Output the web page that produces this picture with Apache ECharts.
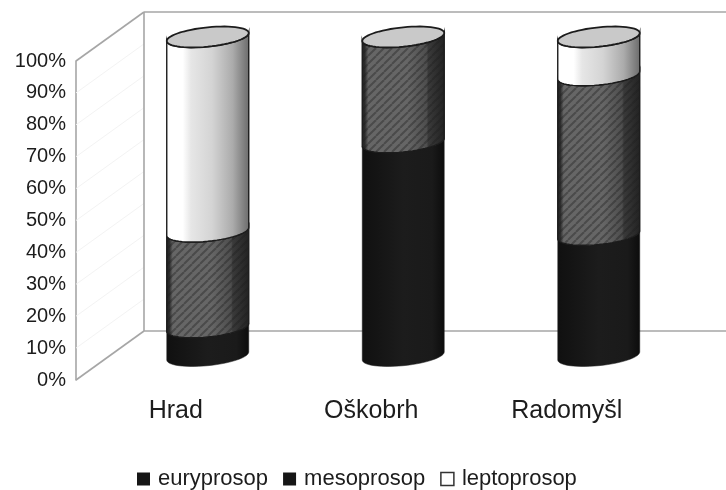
<!DOCTYPE html>
<html>
<head>
<meta charset="utf-8">
<style>html,body{margin:0;padding:0;background:#fff}#c{width:726px;height:490px}</style>
<script src="https://cdn.jsdelivr.net/npm/echarts@6/dist/echarts.min.js"></script>
</head>
<body>
<div id="c"></div>
<script>
const categories = ['Hrad', 'Oškobrh', 'Radomyšl'];
const euryprosop = [9, 67, 38];
const mesoprosop = [30, 33, 50];
const leptoprosop = [61, 0, 12];
const seriesNames = ['euryprosop', 'mesoprosop', 'leptoprosop'];
const yTicks = [0, 10, 20, 30, 40, 50, 60, 70, 80, 90, 100];

const FONT = '"Liberation Sans", Arial, sans-serif';
const INK = '#1c1c1c';
const WALL = '#a6a6a6';
const DEPTH_X = 68, DEPTH_Y = 49;      // 3D wall depth
const BAR_DX = 32, BAR_DY = 24;        // bar offset from category position
const RX = 41, RY = 9.7, TILT = 4;     // tilted ellipse

function hatch() {
  const s = 8, c = document.createElement('canvas');
  c.width = c.height = s;
  const g = c.getContext('2d');
  g.strokeStyle = 'rgba(30,30,30,0.38)';
  g.lineWidth = 2;
  for (let i = -s; i <= s; i += s) {
    g.beginPath(); g.moveTo(i, s); g.lineTo(i + s, 0); g.stroke();
  }
  return c;
}
const hatchTile = hatch();

function grad(stops) {
  return { type: 'linear', x: 0, y: 0, x2: 1, y2: 0,
    colorStops: stops.map(s => ({ offset: s[0], color: s[1] })) };
}
const fills = [
  grad([[0, '#101010'], [0.5, '#1c1c1c'], [0.85, '#1a1a1a'], [1, '#0c0c0c']]),
  grad([[0, '#222'], [0.04, '#2c2c2c'], [0.08, '#666'], [0.55, '#666'], [0.78, '#4e4e4e'], [0.8, '#3a3a3a'], [1, '#222']]),
  grad([[0, '#fff'], [0.2, '#fff'], [0.3, '#e6e6e6'], [0.55, '#d4d4d4'], [0.8, '#ababab'], [1, '#6a6a6a']])
];

function frontArc(cx, cy, from) {
  const pts = [];
  const n = 28;
  for (let i = 0; i <= n; i++) {
    const t = Math.PI + Math.PI * (from === 'L' ? i / n : 1 - i / n);
    pts.push([cx + RX * Math.cos(t), cy - RY * Math.sin(t) - TILT * Math.cos(t)]);
  }
  return pts;
}
function ellipsePts(cx, cy) {
  const pts = [];
  for (let i = 0; i < 60; i++) {
    const t = 2 * Math.PI * i / 60;
    pts.push([cx + RX * Math.cos(t), cy - RY * Math.sin(t) - TILT * Math.cos(t)]);
  }
  return pts;
}

function segRender(layer) {
  return function (params, api) {
    const cat = api.value(0), lo = api.value(1), hi = api.value(2);
    if (hi <= lo) return { type: 'group', children: [] };
    const pLo = api.coord([cat, lo]), pHi = api.coord([cat, hi]);
    const cx = pLo[0] + BAR_DX;
    const yLo = pLo[1] - BAR_DY, yHi = pHi[1] - BAR_DY;
    const pts = frontArc(cx, yLo, 'L').concat(frontArc(cx, yHi, 'R'));
    const children = [{
      type: 'polygon', shape: { points: pts },
      style: { fill: fills[layer], stroke: INK, lineWidth: layer === 0 ? 0.5 : 1.4 }
    }];
    if (layer === 1) {
      children.push({ type: 'polygon', shape: { points: pts },
        style: { fill: { image: hatchTile, repeat: 'repeat' }, stroke: null } });
    }
    if (hi >= 99.99) {
      children.push({ type: 'polygon', shape: { points: ellipsePts(cx, yHi) },
        style: { fill: '#c9c9c9', stroke: INK, lineWidth: 1.8 } });
    }
    return { type: 'group', children };
  };
}

function wallRender(params, api) {
  const cs = params.coordSys;
  const x0 = cs.x - 2, xb = x0 + DEPTH_X;
  const y0 = api.coord([0, 0])[1], y100 = api.coord([0, 100])[1];
  const line = (a, b, c, d, col, w) => ({ type: 'line', shape: { x1: a, y1: b, x2: c, y2: d },
    style: { stroke: col, lineWidth: w } });
  const kids = yTicks.slice(1, -1).map(v => {
    const y = api.coord([0, v])[1];
    return line(x0, y, xb, y - DEPTH_Y, '#f3f3f3', 1);
  });
  kids.push(
    line(x0, y100, xb, y100 - DEPTH_Y, WALL, 1.6),
    line(x0, y0, xb, y0 - DEPTH_Y, WALL, 1.6),
    line(xb, y100 - DEPTH_Y, xb, y0 - DEPTH_Y, WALL, 1.6),
    line(xb, y100 - DEPTH_Y, api.getWidth(), y100 - DEPTH_Y, WALL, 1.6),
    line(xb, y0 - DEPTH_Y, api.getWidth(), y0 - DEPTH_Y, WALL, 1.6)
  );
  return { type: 'group', children: kids };
}

const lists = [euryprosop, mesoprosop, leptoprosop];
const stacked = lists.map((l, k) => l.map((v, i) => {
  let lo = 0;
  for (let j = 0; j < k; j++) lo += lists[j][i];
  return [i, lo, lo + v];
}));

const chart = echarts.init(document.getElementById('c'), null, { renderer: 'canvas' });
chart.setOption({
  animation: false,
  backgroundColor: '#fff',
  textStyle: { fontFamily: FONT },
  grid: { left: 78, top: 61, width: 586.5, height: 319 },
  legend: {
    left: 132, top: 463, itemWidth: 13, itemHeight: 13, itemGap: 15,
    textStyle: { fontSize: 22, color: INK, fontFamily: FONT, padding: [0, 0, 0, 3] },
    icon: 'rect',
    data: [
      { name: seriesNames[0], itemStyle: { color: '#161616' } },
      { name: seriesNames[1], itemStyle: { color: '#161616' } },
      { name: seriesNames[2], itemStyle: { color: '#fff', borderColor: '#333', borderWidth: 1.5 } }
    ]
  },
  xAxis: {
    type: 'category', data: categories,
    axisLine: { show: false }, axisTick: { show: false },
    axisLabel: { color: INK, fontSize: 25, margin: 19, fontFamily: FONT }
  },
  yAxis: {
    type: 'value', min: 0, max: 100, interval: 10, offset: 2,
    axisLine: { show: true, lineStyle: { color: WALL, width: 1.6 } },
    axisTick: { show: false }, splitLine: { show: false },
    axisLabel: { color: INK, fontSize: 20, margin: 10, formatter: '{value}%', fontFamily: FONT }
  },
  series: [
    { type: 'custom', name: 'wall', data: [[0, 0]], renderItem: wallRender, silent: true, z: 1,
      encode: { x: 0, y: 1 } }
  ].concat(seriesNames.map((n, k) => ({
    type: 'custom', name: n, data: stacked[k], renderItem: segRender(k), z: 2 + k,
    encode: { x: 0, y: [1, 2] }, itemStyle: { color: '#161616' }
  })))
});
</script>
</body>
</html>
